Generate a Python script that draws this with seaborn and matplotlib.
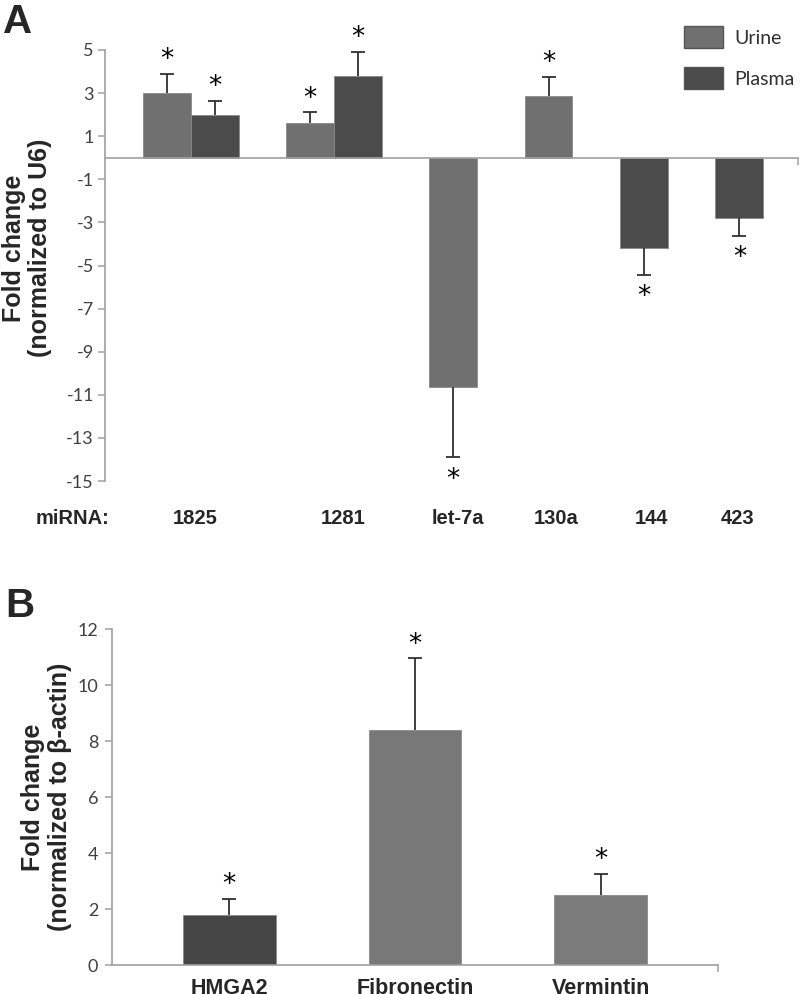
import numpy as np #numbers
import pandas as pd #dataframes
import seaborn as sns #bar plots
import matplotlib.pyplot as plt #figure and text
from matplotlib.patches import Patch #legend boxes

# panel A data
mirna = ['1825', '1281', 'let-7a', '130a', '144', '423']
urine = [3.0, 1.6, -10.65, 2.85, np.nan, np.nan]
urine_err = [0.9, 0.5, 3.25, 0.9, np.nan, np.nan]
plasma = [2.0, 3.8, np.nan, np.nan, -4.2, -2.8]
plasma_err = [0.65, 1.1, np.nan, np.nan, 1.25, 0.84]

# panel B data
genes = ['HMGA2', 'Fibronectin', 'Vermintin']
gene_fold = [1.8, 8.4, 2.5]
gene_err = [0.57, 2.55, 0.75]

# layout of panel A (bar slots, labels)
urine_pos = [0, 3, 6, 8, 10, 12]
plasma_pos = [1, 4, 6, 8, 10, 12]
label_pos = [0.6, 3.7, 6.1, 8.15, 10.15, 11.97]

col_urine = '#707070'
col_plasma = '#4b4b4b'
gene_cols = ['#454545', '#787878', '#7b7b7b']
axis_col = '#a0a0a0'
tick_col = '#404040'

sns.set_style('white')
plt.rcParams['font.family'] = ['Liberation Sans', 'DejaVu Sans']
plt.rcParams['axes.unicode_minus'] = False #plain hyphen for negatives

fig = plt.figure(figsize=(8, 9.94), dpi=100)
axA = fig.add_axes([105/800, 1-481/994, 693/800, 431/994])
axB = fig.add_axes([112/800, 1-965/994, 606/800, 336/994])

# build long table for panel A
rows = []
for i, m in enumerate(mirna):
    if not np.isnan(urine[i]):
        rows.append([urine_pos[i], urine[i], urine_err[i], 'Urine'])
    if not np.isnan(plasma[i]):
        rows.append([plasma_pos[i], plasma[i], plasma_err[i], 'Plasma'])
dfA = pd.DataFrame(rows, columns=['pos', 'value', 'err', 'sample'])

sns.barplot(data=dfA, x='pos', y='value', hue='sample', native_scale=True, dodge=False, width=1,
            palette={'Urine': col_urine, 'Plasma': col_plasma}, errorbar=None, legend=False,
            edgecolor='#8a8a8a', linewidth=0.6, ax=axA)

def one_sided_err(ax, x, y, e, cap=10): #error bar only on the outer side + star
    sign = np.sign(y)
    end = y + sign*e
    ax.vlines(x, y, end, color='#303030', lw=1.3, zorder=3)
    ax.plot(x, end, marker='_', color='#303030', markersize=cap, mew=1.3, ls='none', zorder=3)
    for xi, ei, si in zip(x, end, sign):
        ax.annotate('*', (xi, ei), xytext=(0, 13*si - 3), textcoords='offset points',
                    ha='center', va='center', fontsize=19, family='DejaVu Sans', color='black')

one_sided_err(axA, dfA['pos'].values, dfA['value'].values, dfA['err'].values)

axA.set_ylim(-15, 5)
axA.set_xlim(-1.3, 13.23)
axA.set_yticks(np.arange(-15, 6, 2))
axA.spines['bottom'].set_position(('data', 0))
axA.spines['top'].set_visible(False)
axA.spines['right'].set_visible(False)
for s in ['left', 'bottom']:
    axA.spines[s].set_color(axis_col)
    axA.spines[s].set_linewidth(1.2)
axA.tick_params(axis='y', left=True, length=5, width=1.1, color=axis_col, pad=3, labelsize=13, labelcolor=tick_col)
for t in axA.get_yticklabels():
    t.set_family(['Lato', 'DejaVu Sans'])
axA.set_xticks([])
axA.set_xticks([13.23], minor=True)
axA.tick_params(axis='x', which='minor', bottom=True, length=5, width=1.1, color=axis_col, labelbottom=False)
axA.set_xlabel('')
axA.set_ylabel('Fold change\n(normalized to U6)', fontsize=18, fontweight='bold', linespacing=1.1)
axA.yaxis.set_label_coords(-0.077, 0.54)

# miRNA names under the chart
trA = axA.get_xaxis_transform()
for p, m in zip(label_pos, mirna):
    axA.text(p, -0.088, m, transform=trA, ha='center', va='center', fontsize=14.5, fontweight='bold')
fig.text(73/800, 1-519/994, 'miRNA:', ha='center', va='center', fontsize=14.5, fontweight='bold')

# legend
handles = [Patch(facecolor=col_urine, edgecolor='#555555', lw=1), Patch(facecolor=col_plasma, edgecolor='#555555', lw=1)]
fig.legend(handles, ['Urine', 'Plasma'], loc='upper left', bbox_to_anchor=(684/800, 1-26/994), frameon=False,
           handlelength=2.0, handleheight=1.4, labelspacing=0.95, handletextpad=0.6, borderpad=0, borderaxespad=0,
           prop={'family': ['Lato', 'DejaVu Sans'], 'size': 14}, labelcolor='#303030')

# panel B
sns.barplot(x=genes, y=gene_fold, hue=genes, palette=gene_cols, width=0.5, errorbar=None, legend=False,
            edgecolor='#8a8a8a', linewidth=0.6, ax=axB)
one_sided_err(axB, np.arange(len(genes)), np.array(gene_fold), np.array(gene_err))
axB.set_ylim(0, 12)
axB.set_xlim(-0.63, 2.63)
axB.set_yticks(np.arange(0, 13, 2))
axB.spines['top'].set_visible(False)
axB.spines['right'].set_visible(False)
for s in ['left', 'bottom']:
    axB.spines[s].set_color(axis_col)
    axB.spines[s].set_linewidth(1.2)
axB.tick_params(axis='y', left=True, length=5, width=1.1, color=axis_col, pad=5, labelsize=13, labelcolor=tick_col)
for t in axB.get_yticklabels():
    t.set_family(['Lato', 'DejaVu Sans'])
axB.tick_params(axis='x', which='major', length=0, pad=9, labelsize=15.5)
for t in axB.get_xticklabels():
    t.set_fontweight('bold')
axB.set_xticks([2.63], minor=True)
axB.tick_params(axis='x', which='minor', bottom=True, length=5, width=1.1, color=axis_col)
axB.set_ylabel('Fold change\n(normalized to β-actin)', fontsize=18, fontweight='bold', linespacing=1.15)
axB.yaxis.set_label_coords(-0.066, 0.5)

# panel letters
fig.text(0.004, 1-33/994, 'A', fontsize=29, fontweight='bold', va='baseline')
fig.text(0.006, 1-617/994, 'B', fontsize=29, fontweight='bold', va='baseline')

fig.savefig('out.png', dpi=100)
